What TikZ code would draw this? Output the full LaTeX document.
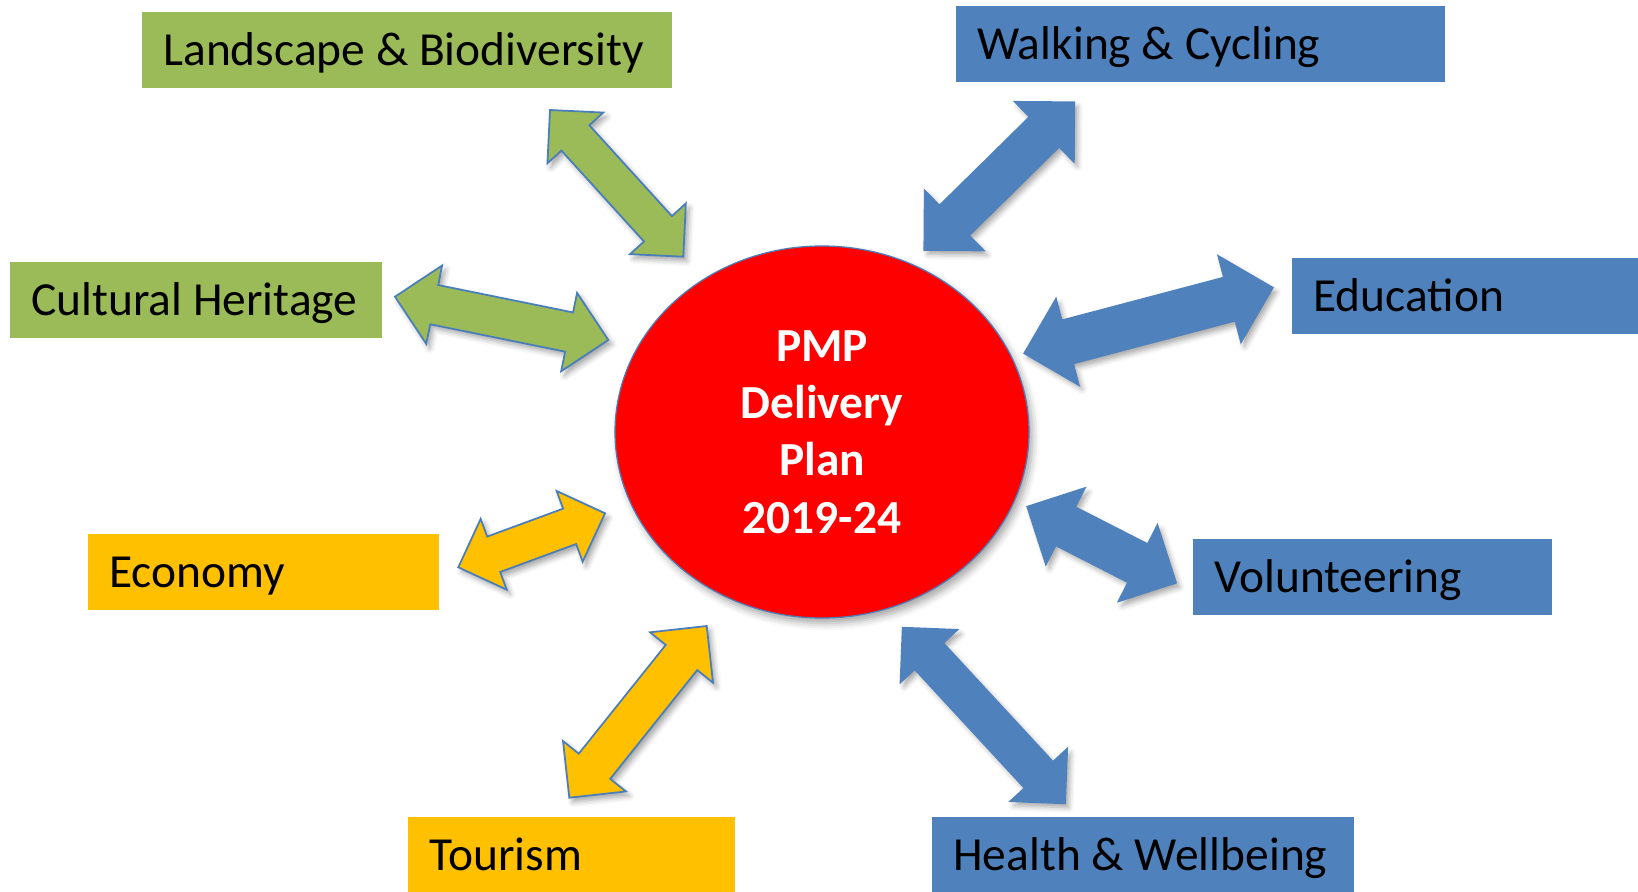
\documentclass[tikz,border=0pt]{standalone}
\usepackage{fontspec}
\setmainfont{Carlito}
\usetikzlibrary{calc,shapes.geometric,shadows.blur}

\definecolor{leafgreen}{HTML}{9BBB59}
\definecolor{steelblue}{HTML}{4F81BD}
\definecolor{amber}{HTML}{FFC000}
\definecolor{edgeblue}{HTML}{4A7EBB}

% two-headed block arrow from #2 to #3, #4 = half width of the heads
% (shaft is half as wide as the heads, heads are as long as that half width)
\newcommand{\twoway}[4]{%
  \path[#1] (#2)
    -- ($(#2)!#4!(#3)!#4!90:(#3)$)
    -- ($(#2)!#4!(#3)!#4/2!90:(#3)$)
    -- ($(#3)!#4!(#2)!#4/2!-90:(#2)$)
    -- ($(#3)!#4!(#2)!#4!-90:(#2)$)
    -- (#3)
    -- ($(#3)!#4!(#2)!#4!90:(#2)$)
    -- ($(#3)!#4!(#2)!#4/2!90:(#2)$)
    -- ($(#2)!#4!(#3)!#4/2!-90:(#3)$)
    -- ($(#2)!#4!(#3)!#4!-90:(#3)$)
    -- cycle;}

\begin{document}
\begin{tikzpicture}[font=\fontsize{27pt}{32.7pt}\selectfont]

\tikzstyle{topic}    = [rectangle, anchor=north west,
                        inner xsep=0.42cm, inner ysep=0pt,
                        minimum height=1.52cm,
                        text height=17.4pt, text depth=0pt]
\tikzstyle{greenbox} = [topic, fill=leafgreen]
\tikzstyle{bluebox}  = [topic, fill=steelblue]
\tikzstyle{amberbox} = [topic, fill=amber]
\tikzstyle{hub}      = [ellipse, fill=red, draw=edgeblue, line width=0.7pt,
                        minimum width=8.28cm, minimum height=7.44cm,
                        text=white, align=center,
                        font=\fontsize{27pt}{32.7pt}\selectfont\bfseries,
                        blur shadow={shadow xshift=2pt, shadow yshift=-3pt,
                                     shadow opacity=35, shadow blur radius=4pt}]
\tikzstyle{way}      = [line width=1pt, line join=miter,
                        blur shadow={shadow xshift=2pt, shadow yshift=-2.5pt,
                                     shadow opacity=35, shadow blur radius=3pt}]
\tikzstyle{greenway} = [way, fill=leafgreen, draw=edgeblue]
\tikzstyle{amberway} = [way, fill=amber, draw=edgeblue]
\tikzstyle{blueway}  = [way, fill=steelblue, draw=steelblue]

\useasboundingbox (0,0) rectangle (32.76,-17.84);

% ── Centre: the plan ─────────────────────────────────
\node[hub] (plan) at (16.44,-8.64) {PMP\\Delivery\\Plan\\2019-24};

% ── Arrow ends ───────────────────────────────────────
\coordinate (land-out) at (11.0,-2.2);    \coordinate (land-in) at (13.666,-5.134);
\coordinate (cult-out) at (7.9,-5.934);   \coordinate (cult-in) at (12.166,-6.8);
\coordinate (econ-out) at (9.166,-11.346); \coordinate (econ-in) at (12.1,-10.266);
\coordinate (tour-out) at (11.386,-15.954); \coordinate (tour-in) at (14.134,-12.52);
\coordinate (walk-out) at (21.486,-2.046); \coordinate (walk-in) at (18.486,-5.0);
\coordinate (educ-out) at (25.454,-5.754); \coordinate (educ-in) at (20.486,-7.066);
\coordinate (volu-out) at (23.52,-11.654); \coordinate (volu-in) at (20.546,-10.134);
\coordinate (heal-out) at (21.3,-16.066);  \coordinate (heal-in) at (18.054,-12.554);

% ── Arrows: left side ────────────────────────────────
\twoway{greenway}{land-out}{land-in}{0.754cm}
\twoway{greenway}{cult-out}{cult-in}{0.8cm}
\twoway{amberway}{econ-out}{econ-in}{0.754cm}
\twoway{amberway}{tour-out}{tour-in}{0.806cm}

% ── Arrows: right side ───────────────────────────────
\twoway{blueway}{walk-out}{walk-in}{0.84cm}
\twoway{blueway}{educ-out}{educ-in}{0.89cm}
\twoway{blueway}{volu-out}{volu-in}{0.855cm}
\twoway{blueway}{heal-out}{heal-in}{0.772cm}

% ── Themes: left side (box width = makebox + 0.84cm) ─
\node[greenbox] (land) at (2.84,-0.24)  {\makebox[9.76cm][l]{Landscape \& Biodiversity}};
\node[greenbox] (cult) at (0.2,-5.24)   {\makebox[6.6cm][l]{Cultural Heritage}};
\node[amberbox] (econ) at (1.76,-10.68) {\makebox[6.18cm][l]{Economy}};
\node[amberbox, minimum height=1.5cm] (tour) at (8.16,-16.34) {\makebox[5.7cm][l]{Tourism}};

% ── Themes: right side ───────────────────────────────
\node[bluebox] (walk) at (19.12,-0.12) {\makebox[8.94cm][l]{Walking \& Cycling}};
\node[bluebox] (educ) at (25.84,-5.16) {\makebox[6.08cm][l]{Education}};
\node[bluebox] (volu) at (23.86,-10.78) {\makebox[6.34cm][l]{Volunteering}};
\node[bluebox, minimum height=1.5cm] (heal) at (18.64,-16.34) {\makebox[7.6cm][l]{Health \& Wellbeing}};

\end{tikzpicture}
\end{document}
